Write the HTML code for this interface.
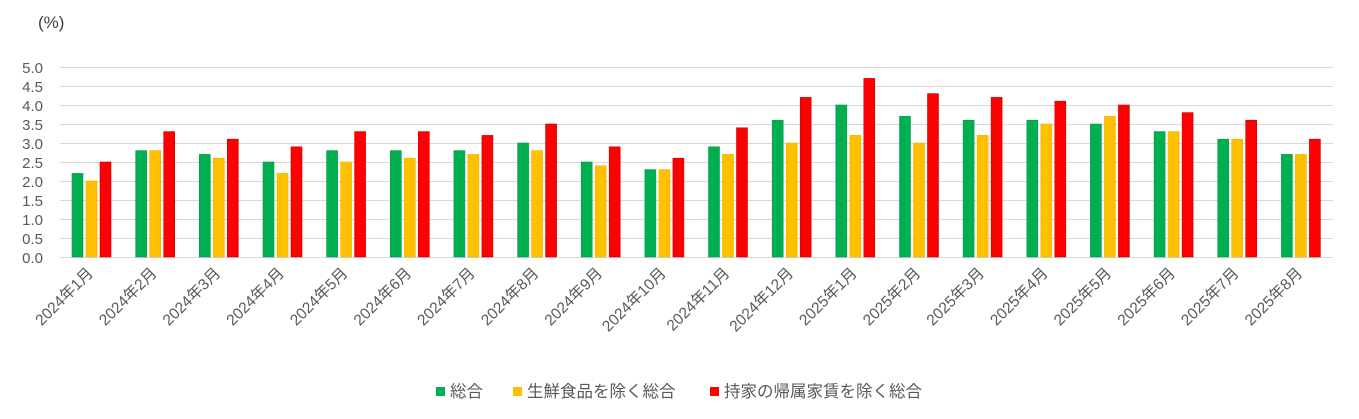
<!DOCTYPE html>
<html><head><meta charset="utf-8"><style>
body{margin:0;background:#fff}
svg{display:block;font-family:"Liberation Sans","Noto Sans CJK JP",sans-serif}
.g{fill:#00B050;stroke:#0a9a48;stroke-width:.6}
.y{fill:#FFC000;stroke:#f0b400;stroke-width:.6}
.r{fill:#FF0000;stroke:#d00000;stroke-width:.6}
.t{font-size:15px;fill:#595959}
.l{font-size:15.5px;fill:#595959}
</style></head><body>
<svg width="1359" height="419" viewBox="0 0 1359 419">
<rect width="1359" height="419" fill="#fff"/>
<text x="38" y="28" font-size="17" fill="#404040">(%)</text>
<g stroke="#d9d9d9" stroke-width="1">
<line x1="60" x2="1333" y1="67.5" y2="67.5"/><line x1="60" x2="1333" y1="86.5" y2="86.5"/>
<line x1="60" x2="1333" y1="105.5" y2="105.5"/><line x1="60" x2="1333" y1="124.5" y2="124.5"/>
<line x1="60" x2="1333" y1="143.5" y2="143.5"/><line x1="60" x2="1333" y1="162.5" y2="162.5"/>
<line x1="60" x2="1333" y1="181.5" y2="181.5"/><line x1="60" x2="1333" y1="200.5" y2="200.5"/>
<line x1="60" x2="1333" y1="219.5" y2="219.5"/><line x1="60" x2="1333" y1="238.5" y2="238.5"/>
<line x1="60" x2="1333" y1="257.5" y2="257.5"/>
</g>
<g class="t" text-anchor="end">
<text x="43" y="73">5.0</text><text x="43" y="92">4.5</text><text x="43" y="111">4.0</text>
<text x="43" y="130">3.5</text><text x="43" y="149">3.0</text><text x="43" y="168">2.5</text>
<text x="43" y="187">2.0</text><text x="43" y="206">1.5</text><text x="43" y="225">1.0</text>
<text x="43" y="244">0.5</text><text x="43" y="263">0.0</text>
</g>
<g transform="translate(72,257)"><rect class="g" x="0" width="11" y="-83.6" height="83.6"/><rect class="y" x="14" width="11" y="-76" height="76"/><rect class="r" x="28" width="11" y="-95" height="95"/><text class="l" text-anchor="end" transform="translate(22,17) rotate(-45)">2024年1月</text></g>
<g transform="translate(135.7,257)"><rect class="g" x="0" width="11" y="-106.4" height="106.4"/><rect class="y" x="14" width="11" y="-106.4" height="106.4"/><rect class="r" x="28" width="11" y="-125.4" height="125.4"/><text class="l" text-anchor="end" transform="translate(22,17) rotate(-45)">2024年2月</text></g>
<g transform="translate(199.3,257)"><rect class="g" x="0" width="11" y="-102.6" height="102.6"/><rect class="y" x="14" width="11" y="-98.8" height="98.8"/><rect class="r" x="28" width="11" y="-117.8" height="117.8"/><text class="l" text-anchor="end" transform="translate(22,17) rotate(-45)">2024年3月</text></g>
<g transform="translate(263,257)"><rect class="g" x="0" width="11" y="-95" height="95"/><rect class="y" x="14" width="11" y="-83.6" height="83.6"/><rect class="r" x="28" width="11" y="-110.2" height="110.2"/><text class="l" text-anchor="end" transform="translate(22,17) rotate(-45)">2024年4月</text></g>
<g transform="translate(326.6,257)"><rect class="g" x="0" width="11" y="-106.4" height="106.4"/><rect class="y" x="14" width="11" y="-95" height="95"/><rect class="r" x="28" width="11" y="-125.4" height="125.4"/><text class="l" text-anchor="end" transform="translate(22,17) rotate(-45)">2024年5月</text></g>
<g transform="translate(390.3,257)"><rect class="g" x="0" width="11" y="-106.4" height="106.4"/><rect class="y" x="14" width="11" y="-98.8" height="98.8"/><rect class="r" x="28" width="11" y="-125.4" height="125.4"/><text class="l" text-anchor="end" transform="translate(22,17) rotate(-45)">2024年6月</text></g>
<g transform="translate(453.9,257)"><rect class="g" x="0" width="11" y="-106.4" height="106.4"/><rect class="y" x="14" width="11" y="-102.6" height="102.6"/><rect class="r" x="28" width="11" y="-121.6" height="121.6"/><text class="l" text-anchor="end" transform="translate(22,17) rotate(-45)">2024年7月</text></g>
<g transform="translate(517.6,257)"><rect class="g" x="0" width="11" y="-114" height="114"/><rect class="y" x="14" width="11" y="-106.4" height="106.4"/><rect class="r" x="28" width="11" y="-133" height="133"/><text class="l" text-anchor="end" transform="translate(22,17) rotate(-45)">2024年8月</text></g>
<g transform="translate(581.2,257)"><rect class="g" x="0" width="11" y="-95" height="95"/><rect class="y" x="14" width="11" y="-91.2" height="91.2"/><rect class="r" x="28" width="11" y="-110.2" height="110.2"/><text class="l" text-anchor="end" transform="translate(22,17) rotate(-45)">2024年9月</text></g>
<g transform="translate(644.9,257)"><rect class="g" x="0" width="11" y="-87.4" height="87.4"/><rect class="y" x="14" width="11" y="-87.4" height="87.4"/><rect class="r" x="28" width="11" y="-98.8" height="98.8"/><text class="l" text-anchor="end" transform="translate(22,17) rotate(-45)">2024年10月</text></g>
<g transform="translate(708.5,257)"><rect class="g" x="0" width="11" y="-110.2" height="110.2"/><rect class="y" x="14" width="11" y="-102.6" height="102.6"/><rect class="r" x="28" width="11" y="-129.2" height="129.2"/><text class="l" text-anchor="end" transform="translate(22,17) rotate(-45)">2024年11月</text></g>
<g transform="translate(772.2,257)"><rect class="g" x="0" width="11" y="-136.8" height="136.8"/><rect class="y" x="14" width="11" y="-114" height="114"/><rect class="r" x="28" width="11" y="-159.6" height="159.6"/><text class="l" text-anchor="end" transform="translate(22,17) rotate(-45)">2024年12月</text></g>
<g transform="translate(835.8,257)"><rect class="g" x="0" width="11" y="-152" height="152"/><rect class="y" x="14" width="11" y="-121.6" height="121.6"/><rect class="r" x="28" width="11" y="-178.6" height="178.6"/><text class="l" text-anchor="end" transform="translate(22,17) rotate(-45)">2025年1月</text></g>
<g transform="translate(899.5,257)"><rect class="g" x="0" width="11" y="-140.6" height="140.6"/><rect class="y" x="14" width="11" y="-114" height="114"/><rect class="r" x="28" width="11" y="-163.4" height="163.4"/><text class="l" text-anchor="end" transform="translate(22,17) rotate(-45)">2025年2月</text></g>
<g transform="translate(963.1,257)"><rect class="g" x="0" width="11" y="-136.8" height="136.8"/><rect class="y" x="14" width="11" y="-121.6" height="121.6"/><rect class="r" x="28" width="11" y="-159.6" height="159.6"/><text class="l" text-anchor="end" transform="translate(22,17) rotate(-45)">2025年3月</text></g>
<g transform="translate(1026.8,257)"><rect class="g" x="0" width="11" y="-136.8" height="136.8"/><rect class="y" x="14" width="11" y="-133" height="133"/><rect class="r" x="28" width="11" y="-155.8" height="155.8"/><text class="l" text-anchor="end" transform="translate(22,17) rotate(-45)">2025年4月</text></g>
<g transform="translate(1090.4,257)"><rect class="g" x="0" width="11" y="-133" height="133"/><rect class="y" x="14" width="11" y="-140.6" height="140.6"/><rect class="r" x="28" width="11" y="-152" height="152"/><text class="l" text-anchor="end" transform="translate(22,17) rotate(-45)">2025年5月</text></g>
<g transform="translate(1154.1,257)"><rect class="g" x="0" width="11" y="-125.4" height="125.4"/><rect class="y" x="14" width="11" y="-125.4" height="125.4"/><rect class="r" x="28" width="11" y="-144.4" height="144.4"/><text class="l" text-anchor="end" transform="translate(22,17) rotate(-45)">2025年6月</text></g>
<g transform="translate(1217.7,257)"><rect class="g" x="0" width="11" y="-117.8" height="117.8"/><rect class="y" x="14" width="11" y="-117.8" height="117.8"/><rect class="r" x="28" width="11" y="-136.8" height="136.8"/><text class="l" text-anchor="end" transform="translate(22,17) rotate(-45)">2025年7月</text></g>
<g transform="translate(1281.4,257)"><rect class="g" x="0" width="11" y="-102.6" height="102.6"/><rect class="y" x="14" width="11" y="-102.6" height="102.6"/><rect class="r" x="28" width="11" y="-117.8" height="117.8"/><text class="l" text-anchor="end" transform="translate(22,17) rotate(-45)">2025年8月</text></g>
<g font-size="16.5" fill="#595959">
<rect x="436" y="387" width="9" height="9" fill="#00B050"/><text x="450" y="397">総合</text>
<rect x="513" y="387" width="9" height="9" fill="#FFC000"/><text x="527" y="397">生鮮食品を除く総合</text>
<rect x="710" y="387" width="9" height="9" fill="#FF0000"/><text x="724" y="397">持家の帰属家賃を除く総合</text>
</g>
</svg>
</body></html>
